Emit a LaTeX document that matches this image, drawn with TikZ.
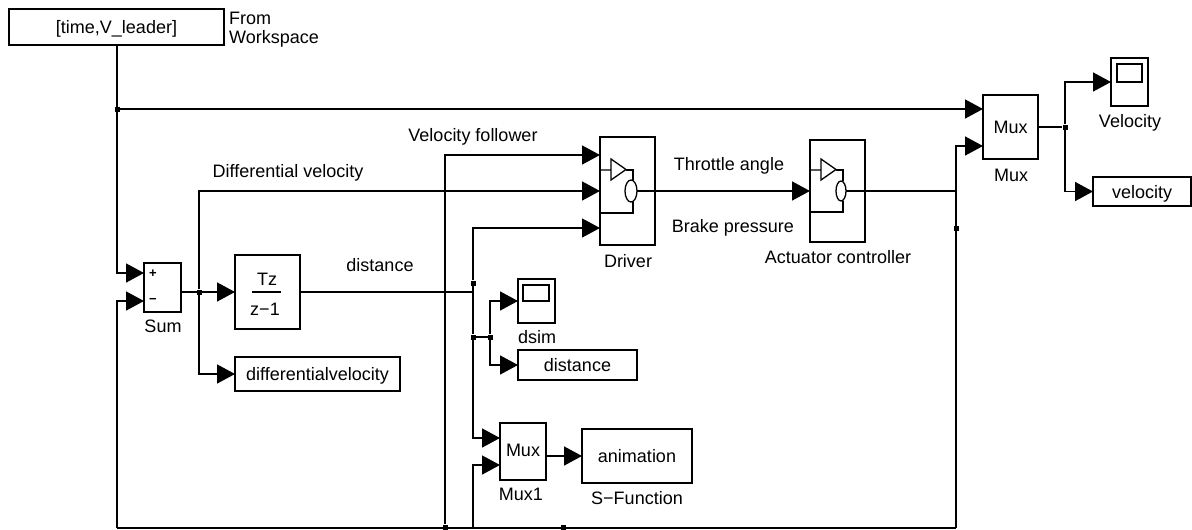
\documentclass[tikz,border=0pt]{standalone}
\usepackage{fontspec}
\setmainfont{Liberation Sans}
\usetikzlibrary{arrows.meta,calc}

\tikzset{
  blk/.style={draw,line width=1.3pt,minimum width=#1,inner sep=0pt,outer sep=0pt,anchor=north west,text height=13pt,text depth=0pt},
  jn/.style={fill,rectangle,minimum size=5pt,inner sep=0pt},
  lab/.style={inner sep=0pt,text height=13pt,text depth=0pt},
  wire/.style={line width=1.5pt},
  sig/.style={wire,->}
}

\begin{document}
\begin{tikzpicture}[x=1pt,y=-1pt,>={Triangle[length=18pt,width=19pt]},font=\fontsize{18}{16}\selectfont]
  \useasboundingbox (0,0) rectangle (1192,530);
  % blocks
  \node[blk=215pt,minimum height=36pt] (wksp) at (9,9) {[time,V\_leader]};
  \node[inner sep=0pt,align=left,anchor=north west,font=\fontsize{18}{19}\selectfont] (wkspl) at (229,12) {From\\Workspace};
  \node[blk=37pt,minimum height=49pt] (sum) at (144,263) {};
  \node[inner sep=0pt,font=\fontsize{13}{16}\selectfont] (plus) at (153,274) {\textbf{+}};
  \node[inner sep=0pt,font=\fontsize{13}{16}\selectfont] (minus) at (153,301) {\textbf{−}};
  \node[lab] (suml) at (163,326) {Sum};
  \node[blk=65pt,minimum height=74pt] (zinv) at (235,255) {};
  \node[lab] (tz) at (267,279) {Tz};
  \node[lab] (zm) at (265,309) {z−1};
  \node[blk=165pt,minimum height=34pt] (dvel) at (235,357) {differentialvelocity};
  \node[blk=55pt,minimum height=108pt] (drv) at (600,137) {};
  \node[lab] (drvl) at (628,261) {Driver};
  \node[blk=55pt,minimum height=102pt] (act) at (810,140) {};
  \node[lab] (actl) at (838,257) {Actuator controller};
  \node[blk=37pt,minimum height=44pt] (dsim) at (518,279) {};
  \node[blk=26pt,minimum height=16pt] (dsimi) at (523,285) {};
  \node[lab] (dsiml) at (537,337) {dsim};
  \node[blk=119pt,minimum height=30pt] (dist) at (518,350) {distance};
  \node[blk=46pt,minimum height=57pt] (muxa) at (500,423) {};
  \node[lab] (muxat) at (523,450) {Mux};
  \node[lab] (muxal) at (521,494) {Mux1};
  \node[blk=110pt,minimum height=54pt] (anim) at (582,429) {animation};
  \node[lab] (animl) at (637,498) {S−Function};
  \node[blk=55pt,minimum height=64pt] (mux) at (983,95) {Mux};
  \node[lab] (muxl) at (1011,175) {Mux};
  \node[blk=37pt,minimum height=48pt] (vsc) at (1111,58) {};
  \node[blk=25pt,minimum height=18pt] (vsci) at (1117,64) {};
  \node[lab] (vscl) at (1130,121) {Velocity};
  \node[blk=98pt,minimum height=29pt] (vel) at (1093,177) {velocity};
  % signal labels
  \node[lab] (l1) at (473,135) {Velocity follower};
  \node[lab] (l2) at (288,171) {Differential velocity};
  \node[lab] (l3) at (380,265) {distance};
  \node[lab] (l4) at (729,164) {Throttle angle};
  \node[lab] (l5) at (733,226) {Brake pressure};
  % branch points
  \node[jn] (j1) at (117,109) {};
  \node[jn] (j2) at (199,292) {};
  \node[jn] (j3) at (473,283) {};
  \node[jn] (j4) at (473,337) {};
  \node[jn] (j5) at (490,337) {};
  \node[jn] (j6) at (445,527) {};
  \node[jn] (j7) at (563,527) {};
  \node[jn] (j8) at (956,228) {};
  \node[jn] (j9) at (1065,127) {};
  \coordinate (top) at (117,45);
  \coordinate (sumA) at (144,273);
  \coordinate (sumB) at (144,301);
  \coordinate (sumO) at (181,292);
  \coordinate (vfol) at (445,155);
  \coordinate (bl) at (117,528);
  \coordinate (br) at (956,528);
  \coordinate (muxB) at (983,146);
  \coordinate (tap) at (473,292);
  % wires
  \draw[sig] (wksp.south -| top) |- (sumA);
  \draw[sig] (j1) -- (j1 -| mux.west);
  \draw[wire] (bl) -- (br);
  \draw[sig] (bl) |- (sumB);
  \draw[sig] (sumO) -- (zinv.west);
  \draw[sig] (j2) |- (dvel.west);
  \draw[sig] (j2) |- (drv.west);
  \draw[wire] (zinv.east) -- (tap);
  \draw[sig] (j3) |- (600,228);
  \draw[wire] (j3) -- (j4);
  \draw[wire] (j4.center) -- (j5.center);
  \draw[sig] (j5) |- (dsim.west);
  \draw[sig] (j5) |- (dist.west);
  \draw[sig] (j4) |- (muxa.west |- 0,438);
  \draw[sig] (473,528) |- (muxa.west |- 0,465);
  \draw[sig] (muxa.east |- anim.west) -- (anim.west);
  \draw[sig] (j6) -- (vfol) -- (drv.west |- vfol);
  \draw[sig] (drv.east) -- (act.west);
  \draw[wire] (act.east) -- (956,191);
  \draw[sig] (br) -- (956,146) -- (muxB);
  \draw[wire] (mux.east) -- (j9);
  \draw[sig] (j9) |- (vsc.west |- 0,82);
  \draw[sig] (j9) |- (vel.west);
  % driver internals
  \foreach \bx/\ex/\ey/\eb/\rx/\ry in {600/631/191/213/6/11,810/841/191/212/5/10}{
    \draw[line width=1.3pt] (\bx,170) -- ++(11,0) ++(0,-11) -- ++(0,21) -- ++(15,-10.5) -- cycle;
    \draw[line width=1.3pt] (\bx+26,170) -- (\ex+2,170) -- (\ex+2,\ey-\ry);
    \draw[line width=1.3pt] (\ex+2,\ey+\ry) -- (\ex+2,\eb) -- (\bx,\eb);
    \draw[fill=white,line width=1.3pt] (\ex,\ey) ellipse [x radius=\rx,y radius=\ry];
    \draw[line width=1.3pt] (\ex+\rx,\ey) -- (\bx+55,\ey);
  }
  \draw[line width=1.3pt] (252,292) -- (281,292);
\end{tikzpicture}
\end{document}
